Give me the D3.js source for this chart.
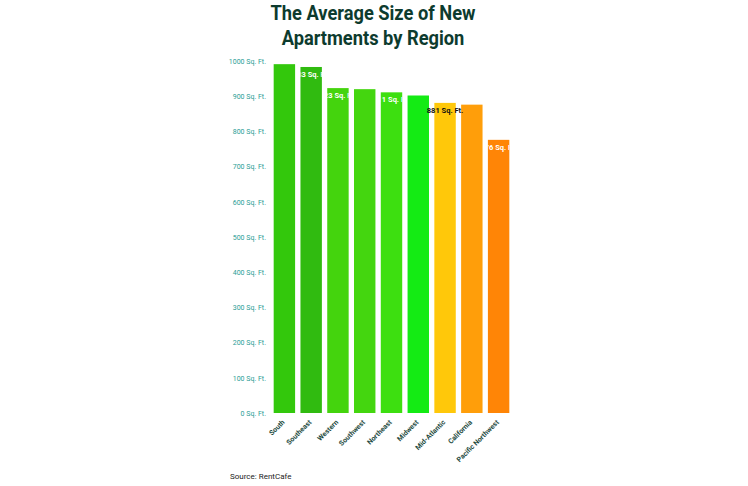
<!DOCTYPE html>
<html><head><meta charset="utf-8">
<script src="https://cdn.jsdelivr.net/npm/d3@7"></script>
<style>body{margin:0;background:#fff;}svg{display:block;}</style>
</head><body>
<svg id="c" width="748" height="486"></svg>
<script>
const regions = ["South","Southeast","Western","Southwest","Northeast","Midwest","Mid-Atlantic","California","Pacific Northwest"];
const sizes = [991, 983, 923, 920, 911, 902, 881, 876, 776];
const colors = ["#33c80c","#30bb10","#44d40d","#44d60f","#3ddf10","#14eb14","#ffc80a","#ff9e0a","#ff8506"];
const showLabel = [false,true,true,false,true,false,true,false,true];
const labelDark = [false,false,false,false,false,false,true,false,false];
const yTicks = [0,100,200,300,400,500,600,700,800,900,1000];

const svg = d3.select("#c");
const x = d3.scaleBand().domain(regions).range([271,512]).paddingInner(0.2).paddingOuter(0.1);
const y = d3.scaleLinear().domain([0,1000]).range([413,61]);

const title = svg.append("g").attr("transform","translate(373,0) scale(0.87,1)");
title.append("text").attr("x",0).attr("y",20).attr("text-anchor","middle")
  .attr("font-family","Roboto").attr("font-weight","bold").attr("font-size",21).attr("fill","#0d3b2e")
  .text("The Average Size of New");
title.append("text").attr("x",0).attr("y",45).attr("text-anchor","middle")
  .attr("font-family","Roboto").attr("font-weight","bold").attr("font-size",21).attr("fill","#0d3b2e")
  .text("Apartments by Region");

const yAxis = svg.append("g").attr("transform","translate(266,0)")
  .call(d3.axisLeft(y).tickValues(yTicks).tickSize(0).tickPadding(0).tickFormat(d=>d+" Sq. Ft."));
yAxis.select(".domain").remove();
yAxis.selectAll("text").attr("font-family","Roboto").attr("font-size",7).attr("fill","#2a9d96");

const defs = svg.append("defs");
regions.forEach((r,i)=>{
  defs.append("clipPath").attr("id","cl"+i).append("rect")
    .attr("x",x(r)).attr("y",y(sizes[i])).attr("width",x.bandwidth()).attr("height",y(0)-y(sizes[i]));
});

svg.selectAll("rect.bar").data(regions).join("rect").attr("class","bar")
  .attr("x",d=>x(d)).attr("y",(d,i)=>y(sizes[i])).attr("width",x.bandwidth())
  .attr("height",(d,i)=>y(0)-y(sizes[i])).attr("fill",(d,i)=>colors[i]);

regions.forEach((r,i)=>{
  if(!showLabel[i]) return;
  const t = svg.append("text").attr("x",x(r)+x.bandwidth()/2).attr("y",y(sizes[i])+10)
    .attr("text-anchor","middle").attr("font-family","Roboto").attr("font-weight","bold")
    .attr("font-size",7.5).attr("fill",labelDark[i]?"#111":"#fff").text(sizes[i]+" Sq. Ft.");
  if(!labelDark[i]) t.attr("clip-path","url(#cl"+i+")");
});

const xAxis = svg.append("g").attr("transform","translate(0,413)")
  .call(d3.axisBottom(x).tickSize(0).tickPadding(0));
xAxis.select(".domain").remove();
xAxis.selectAll("text").attr("font-family","Roboto").attr("font-weight","bold").attr("font-size",7)
  .attr("fill","#1d4a40").attr("text-anchor","end")
  .attr("transform",d=>"translate("+(x.bandwidth()/2-1)+",8) rotate(-45)").attr("dy","0.35em").attr("x",0).attr("y",0);
xAxis.selectAll(".tick").attr("transform",d=>"translate("+x(d)+",0)");

svg.append("text").attr("x",230).attr("y",479).attr("font-family","Roboto").attr("font-size",8)
  .attr("fill","#222").text("Source: RentCafe");
</script>
</body></html>
